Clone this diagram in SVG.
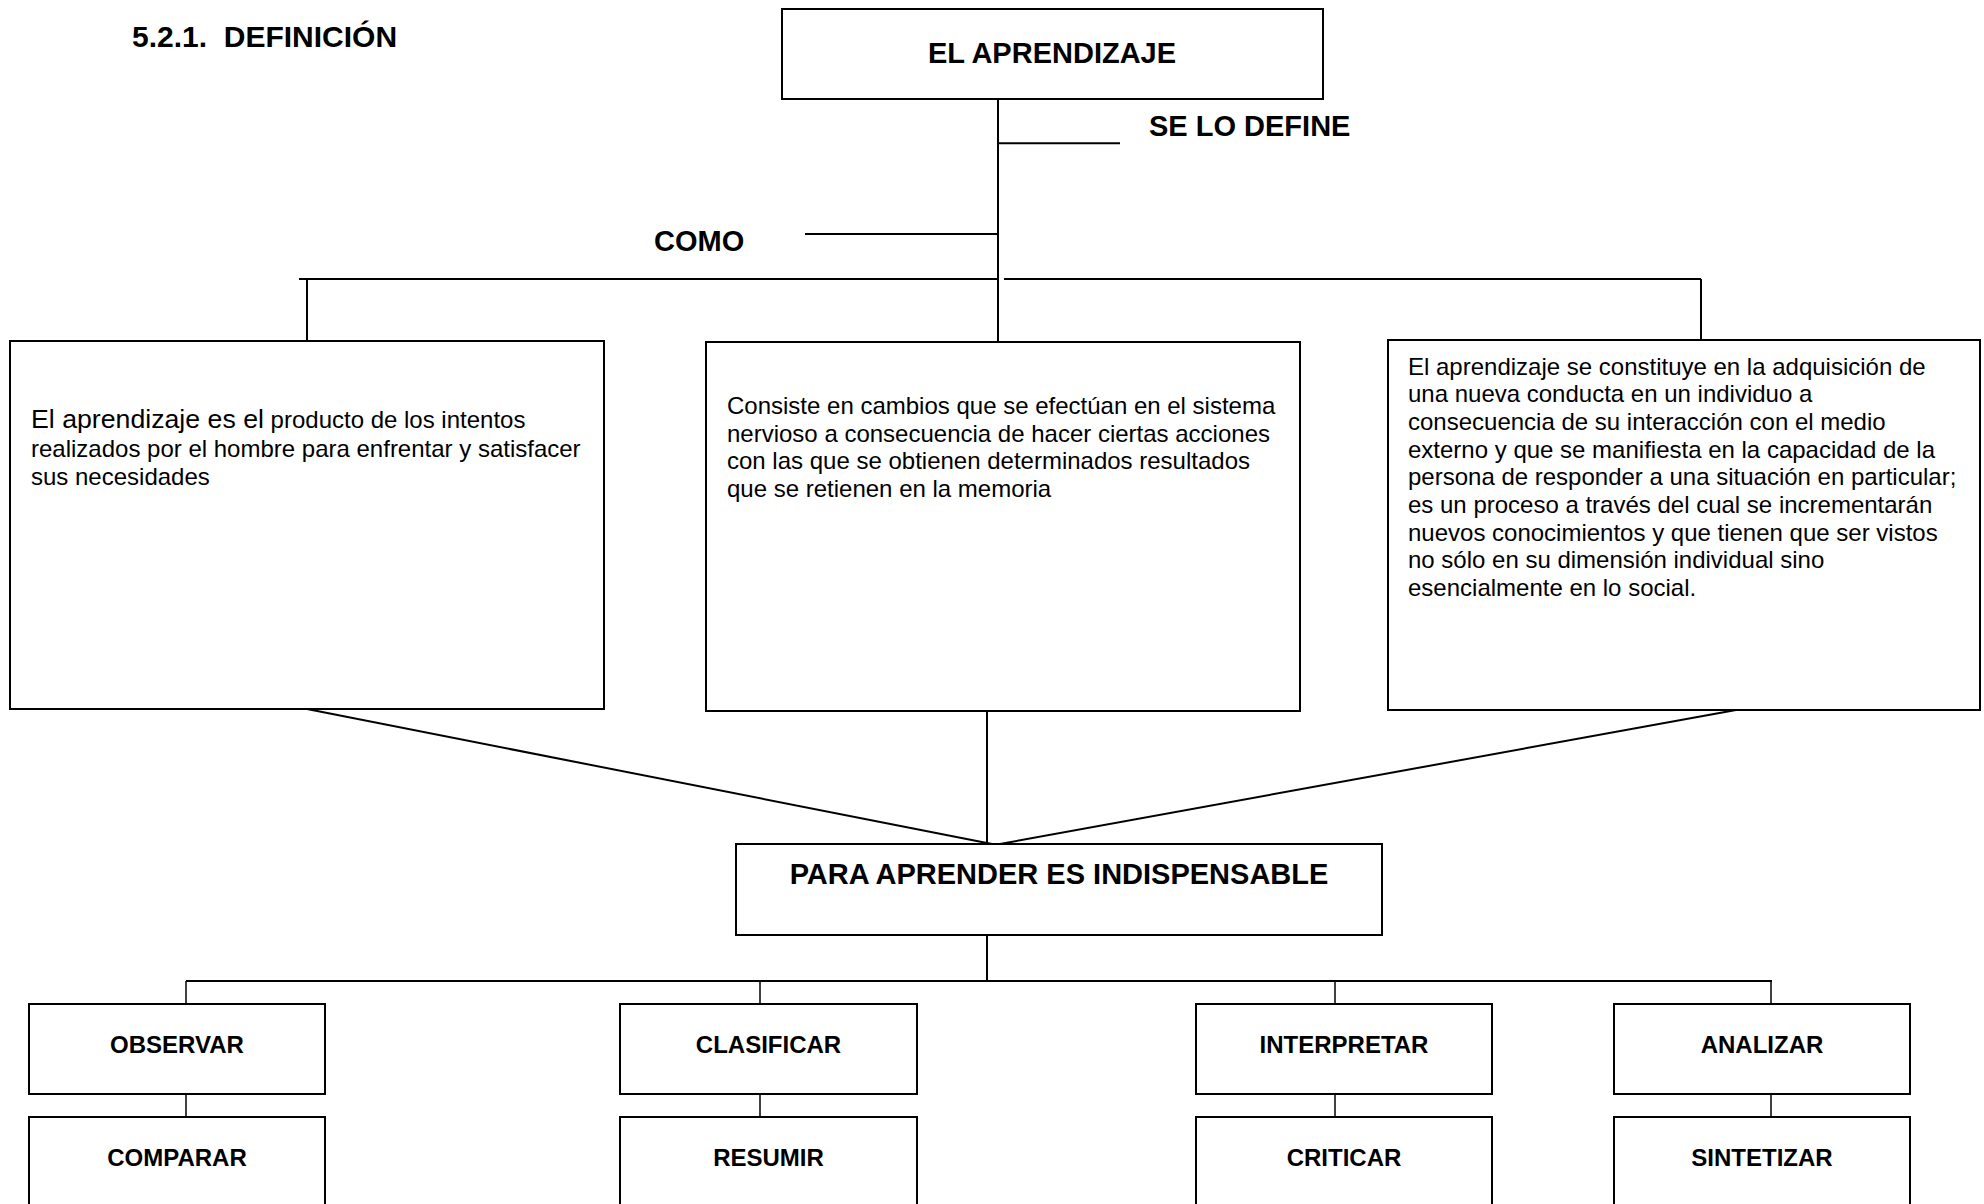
<svg xmlns="http://www.w3.org/2000/svg" width="1984" height="1204" viewBox="0 0 1984 1204">
<style>
  .box { fill: #ffffff; stroke: #000000; stroke-width: 2; }
  .ln { fill: none; stroke: #000000; stroke-width: 2; }
  .thin { fill: none; stroke: #000000; stroke-width: 1.5; }
  text { font-family: "Liberation Sans", Arial, sans-serif; fill: #000000; }
  .hd { font-size: 29px; font-weight: bold; }
  .lbl { font-size: 24px; font-weight: bold; text-anchor: middle; }
  .body { font-size: 24px; }
  .big { font-size: 26.7px; }
</style>
<rect x="0" y="0" width="1984" height="1204" fill="#ffffff"/>
<text x="132" y="46.7" style="font-size:30px;font-weight:bold;white-space:pre" xml:space="preserve">5.2.1.  DEFINICIÓN</text>
<g id="connectors">
  <line class="ln" x1="998" y1="99" x2="998" y2="342"/>
  <line class="ln" x1="997" y1="143.3" x2="1120" y2="143.3"/>
  <line class="ln" x1="805" y1="234" x2="998" y2="234"/>
  <line class="ln" x1="299" y1="279" x2="998" y2="279"/>
  <line class="ln" x1="1004" y1="279" x2="1701" y2="279"/>
  <line class="ln" x1="307" y1="279" x2="307" y2="341"/>
  <line class="ln" x1="1701" y1="279" x2="1701" y2="340"/>
  <line class="ln" x1="307" y1="709" x2="992" y2="844"/>
  <line class="ln" x1="987" y1="711" x2="987" y2="844"/>
  <line class="ln" x1="1736" y1="710" x2="1000" y2="844"/>
  <line class="ln" x1="987" y1="935" x2="987" y2="981"/>
  <line class="ln" x1="186" y1="981" x2="1772" y2="981"/>
  <line class="thin" x1="186" y1="981" x2="186" y2="1004"/>
  <line class="thin" x1="760" y1="981" x2="760" y2="1004"/>
  <line class="thin" x1="1335" y1="981" x2="1335" y2="1004"/>
  <line class="thin" x1="1771" y1="981" x2="1771" y2="1004"/>
  <line class="thin" x1="186" y1="1094" x2="186" y2="1117"/>
  <line class="thin" x1="760" y1="1094" x2="760" y2="1117"/>
  <line class="thin" x1="1335" y1="1094" x2="1335" y2="1117"/>
  <line class="thin" x1="1771" y1="1094" x2="1771" y2="1117"/>
</g>
<g id="label-se-lo-define"><text class="hd" x="1149" y="136">SE LO DEFINE</text></g>
<g id="label-como"><text class="hd" x="654" y="250.7">COMO</text></g>
<g id="node-aprendizaje">
  <rect class="box" x="782" y="9" width="541" height="90"/>
  <text class="hd" x="1052" y="62.7" text-anchor="middle">EL APRENDIZAJE</text>
</g>
<g id="node-def1">
  <rect class="box" x="10" y="341" width="594" height="368"/>
  <text class="body" x="31" y="428.3"><tspan class="big">El aprendizaje es el</tspan> producto de los intentos</text>
  <text class="body" x="31" y="456.5">realizados por el hombre para enfrentar y satisfacer</text>
  <text class="body" x="31" y="484.5">sus necesidades</text>
</g>
<g id="node-def2">
  <rect class="box" x="706" y="342" width="594" height="369"/>
  <text class="body" x="727" y="414">Consiste en cambios que se efectúan en el sistema</text>
  <text class="body" x="727" y="441.6">nervioso a consecuencia de hacer ciertas acciones</text>
  <text class="body" x="727" y="469.2">con las que se obtienen determinados resultados</text>
  <text class="body" x="727" y="496.8">que se retienen en la memoria</text>
</g>
<g id="node-def3">
  <rect class="box" x="1388" y="340" width="592" height="370"/>
  <text class="body" x="1408" y="374.5">El aprendizaje se constituye en la adquisición de</text>
  <text class="body" x="1408" y="402.2">una nueva conducta en un individuo a</text>
  <text class="body" x="1408" y="429.9">consecuencia de su interacción con el medio</text>
  <text class="body" x="1408" y="457.6">externo y que se manifiesta en la capacidad de la</text>
  <text class="body" x="1408" y="485.3">persona de responder a una situación en particular;</text>
  <text class="body" x="1408" y="513">es un proceso a través del cual se incrementarán</text>
  <text class="body" x="1408" y="540.7">nuevos conocimientos y que tienen que ser vistos</text>
  <text class="body" x="1408" y="568.4">no sólo en su dimensión individual sino</text>
  <text class="body" x="1408" y="596.1">esencialmente en lo social.</text>
</g>
<g id="node-para">
  <rect class="box" x="736" y="844" width="646" height="91"/>
  <text class="hd" x="1059" y="884" text-anchor="middle">PARA APRENDER ES INDISPENSABLE</text>
</g>
<g id="node-observar">
  <rect class="box" x="29" y="1004" width="296" height="90"/>
  <text class="lbl" x="177" y="1053">OBSERVAR</text>
</g>
<g id="node-clasificar">
  <rect class="box" x="620" y="1004" width="297" height="90"/>
  <text class="lbl" x="768.5" y="1053">CLASIFICAR</text>
</g>
<g id="node-interpretar">
  <rect class="box" x="1196" y="1004" width="296" height="90"/>
  <text class="lbl" x="1344" y="1053">INTERPRETAR</text>
</g>
<g id="node-analizar">
  <rect class="box" x="1614" y="1004" width="296" height="90"/>
  <text class="lbl" x="1762" y="1053">ANALIZAR</text>
</g>
<g id="node-comparar">
  <rect class="box" x="29" y="1117" width="296" height="92"/>
  <text class="lbl" x="177" y="1166">COMPARAR</text>
</g>
<g id="node-resumir">
  <rect class="box" x="620" y="1117" width="297" height="92"/>
  <text class="lbl" x="768.5" y="1166">RESUMIR</text>
</g>
<g id="node-criticar">
  <rect class="box" x="1196" y="1117" width="296" height="92"/>
  <text class="lbl" x="1344" y="1166">CRITICAR</text>
</g>
<g id="node-sintetizar">
  <rect class="box" x="1614" y="1117" width="296" height="92"/>
  <text class="lbl" x="1762" y="1166">SINTETIZAR</text>
</g>
</svg>
